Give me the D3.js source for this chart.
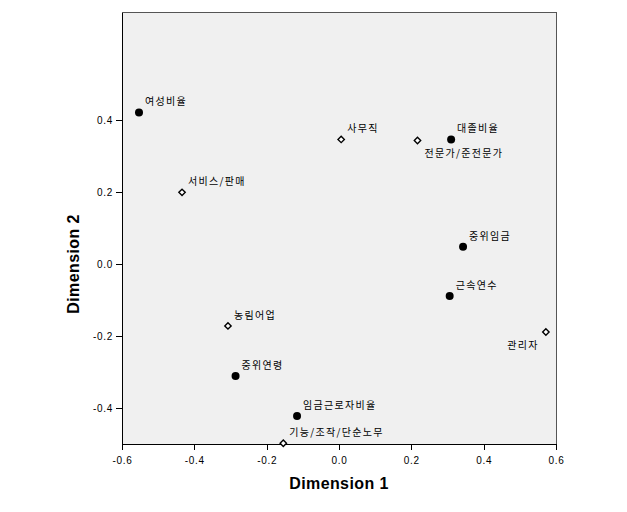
<!DOCTYPE html>
<html><head><meta charset="utf-8">
<script src="https://cdn.jsdelivr.net/npm/d3@7"></script>
<style>body{margin:0;background:#fff;}</style>
</head><body>
<svg id="chart" width="627" height="512"></svg>
<script>
const labels = ["여성비율","서비스/판매","사무직","전문가/준전문가","대졸비율","중위임금","근속연수","관리자","농림어업","중위연령","임금근로자비율","기능/조작/단순노무"];
const dim1 = [-0.553, -0.434, 0.006, 0.217, 0.310, 0.343, 0.306, 0.572, -0.307, -0.286, -0.116, -0.154];
const dim2 = [0.421, 0.199, 0.346, 0.343, 0.346, 0.048, -0.089, -0.189, -0.172, -0.311, -0.422, -0.498];
const kind = ["variable","category","category","category","variable","variable","variable","category","category","variable","variable","category"];
const labelPlace = ["above","above","above","below","above","above","above","belowLeft","above","above","above","above"];
const xTicks = [-0.6,-0.4,-0.2,0.0,0.2,0.4,0.6];
const yTicks = [-0.4,-0.2,0.0,0.2,0.4];
const xTitle = "Dimension 1", yTitle = "Dimension 2";

const svg = d3.select("#chart");
const L = 122, R = 556, T = 12, B = 444;
const x = d3.scaleLinear().domain([-0.6,0.6]).range([L,R]);
const y = d3.scaleLinear().domain([-0.5,0.7]).range([B,T]);

svg.append("rect").attr("x",L).attr("y",T).attr("width",R-L).attr("height",B-T)
  .attr("fill","#f0f0f0").attr("stroke","#555").attr("stroke-width",1).attr("shape-rendering","crispEdges");

const fmt = d3.format(".1f");
const tickFont = "Liberation Sans, Arial, sans-serif";
const gx = svg.append("g").attr("transform",`translate(0,${B})`)
  .call(d3.axisBottom(x).tickValues(xTicks).tickFormat(d=>fmt(d).replace("−","-")).tickSize(6).tickSizeOuter(0));
const gy = svg.append("g").attr("transform",`translate(${L},0)`)
  .call(d3.axisLeft(y).tickValues(yTicks).tickFormat(d=>fmt(d).replace("−","-")).tickSize(6).tickSizeOuter(0));
[gx,gy].forEach(g=>{
  g.select(".domain").attr("stroke","#000").attr("shape-rendering","crispEdges");
  g.selectAll(".tick line").attr("stroke","#000").attr("shape-rendering","crispEdges");
  g.selectAll(".tick text").attr("font-family",tickFont).attr("font-size",10).attr("letter-spacing","0.7px").attr("fill","#000");
});
gx.selectAll(".tick text").attr("dy","1.05em");

svg.append("text").attr("x",(L+R)/2).attr("y",489).attr("text-anchor","middle")
  .attr("font-family",tickFont).attr("font-weight","bold").attr("font-size",16).attr("letter-spacing","0.4px").text(xTitle);
svg.append("text").attr("transform",`translate(79,264) rotate(-90)`).attr("text-anchor","middle")
  .attr("font-family",tickFont).attr("font-weight","bold").attr("font-size",16).attr("letter-spacing","0.4px").text(yTitle);

const pts = labels.map((l,i)=>({l, x:dim1[i], y:dim2[i], k:kind[i], p:labelPlace[i]}));
const g = svg.append("g");
pts.forEach(d=>{
  const px = x(d.x), py = y(d.y);
  if (d.k === "variable") {
    g.append("circle").attr("cx",px).attr("cy",py).attr("r",4).attr("fill","#000");
  } else {
    g.append("path").attr("d",d3.symbol(d3.symbolDiamond2,26)()).attr("transform",`translate(${px},${py})`)
      .attr("fill","#fff").attr("stroke","#000").attr("stroke-width",1.4);
  }
  let tx = px+6, ty = py-7, anchor = "start";
  if (d.p === "below") { tx = px+7; ty = py+16; }
  if (d.p === "belowLeft") { tx = px-7; ty = py+17; anchor = "end"; }
  g.append("text").attr("x",tx).attr("y",ty).attr("text-anchor",anchor)
    .attr("font-family","Noto Sans CJK KR, sans-serif").attr("font-size",10).attr("letter-spacing","1.3px")
    .attr("fill","#000").text(d.l);
});
</script>
</body></html>
